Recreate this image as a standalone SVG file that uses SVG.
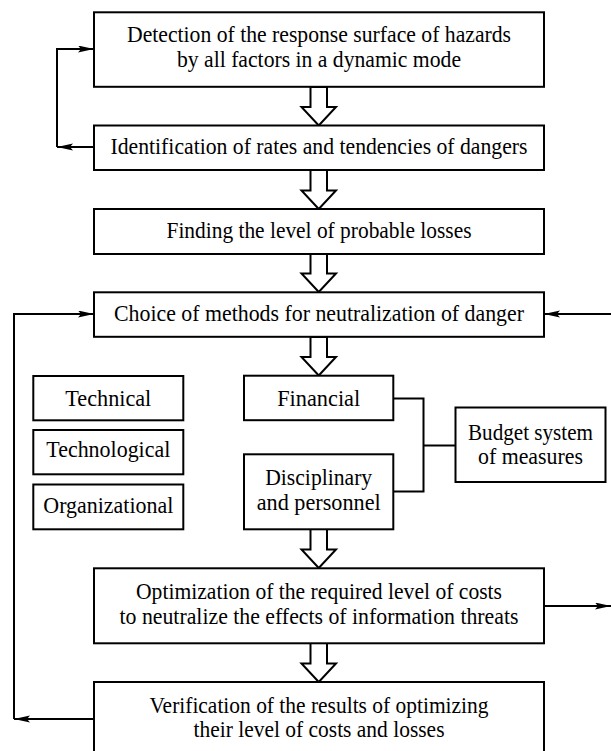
<svg xmlns="http://www.w3.org/2000/svg" width="611" height="751" viewBox="0 0 611 751">
<style>
  .box { fill: #ffffff; stroke: #000000; stroke-width: 2; }
  .t { font-family: 'Liberation Serif', 'DejaVu Serif', 'Times New Roman', Times, serif; font-size: 23.5px; fill: #000000; text-anchor: middle; }
  .line { fill: none; stroke: #000000; stroke-width: 2; }
  .big { fill: #ffffff; stroke: #000000; stroke-width: 2; stroke-linejoin: miter; }
</style>
<defs>
  <marker id="ah" markerWidth="17" markerHeight="8" refX="16" refY="3.5" orient="auto" markerUnits="userSpaceOnUse">
    <path d="M0,0 L16,3.5 L0,7 L3,3.5 z" fill="#000000"/>
  </marker>
</defs>
<rect width="611" height="751" fill="#ffffff"/>

<g id="connectors">
  <polygon class="big" points="310.5,87 327,87 327,107 336,107 318.75,125.5 301.5,107 310.5,107"/>
  <polygon class="big" points="310.5,170 327,170 327,190.5 336,190.5 318.75,209 301.5,190.5 310.5,190.5"/>
  <polygon class="big" points="310.5,254 327,254 327,273.5 336,273.5 318.75,292 301.5,273.5 310.5,273.5"/>
  <polygon class="big" points="310.5,337 327,337 327,357 336,357 318.75,375.5 301.5,357 310.5,357"/>
  <polygon class="big" points="310.5,529 327,529 327,549.5 336,549.5 318.75,568 301.5,549.5 310.5,549.5"/>
  <polygon class="big" points="310.5,643 327,643 327,663.5 336,663.5 318.75,682 301.5,663.5 310.5,663.5"/>

  <path class="line" d="M94,147 H57" marker-end="url(#ah)"/>
  <path class="line" d="M57,147 V49 H94" marker-end="url(#ah)"/>

  <path class="line" d="M94,719 H14" marker-end="url(#ah)"/>
  <path class="line" d="M14,719 V314 H94" marker-end="url(#ah)"/>

  <path class="line" d="M611,314 H544" marker-end="url(#ah)"/>
  <path class="line" d="M544,606 H611" marker-end="url(#ah)"/>

  <path class="line" d="M393,398.5 H423.5 V491.5 H393"/>
  <path class="line" d="M423.5,445.5 H455"/>
</g>

<g id="detection">
  <rect class="box" x="94" y="12.3" width="450" height="74.5"/>
  <text class="t" x="319" y="42" textLength="384" lengthAdjust="spacingAndGlyphs">Detection of the response surface of hazards</text>
  <text class="t" x="319" y="67" textLength="284" lengthAdjust="spacingAndGlyphs">by all factors in a dynamic mode</text>
</g>
<g id="identification">
  <rect class="box" x="94" y="125.5" width="450" height="44.5"/>
  <text class="t" x="319" y="153.5" textLength="417" lengthAdjust="spacingAndGlyphs">Identification of rates and tendencies of dangers</text>
</g>
<g id="finding">
  <rect class="box" x="94" y="209" width="450" height="45"/>
  <text class="t" x="319" y="237.5" textLength="305" lengthAdjust="spacingAndGlyphs">Finding the level of probable losses</text>
</g>
<g id="choice">
  <rect class="box" x="94" y="292.3" width="450" height="44.5"/>
  <text class="t" x="319" y="320.5" textLength="410" lengthAdjust="spacingAndGlyphs">Choice of methods for neutralization of danger</text>
</g>
<g id="technical">
  <rect class="box" x="33.3" y="376" width="150" height="44.3"/>
  <text class="t" x="108.3" y="405.5" textLength="86" lengthAdjust="spacingAndGlyphs">Technical</text>
</g>
<g id="technological">
  <rect class="box" x="33.3" y="430" width="150" height="44.3"/>
  <text class="t" x="108.3" y="457" textLength="124" lengthAdjust="spacingAndGlyphs">Technological</text>
</g>
<g id="organizational">
  <rect class="box" x="33.3" y="484.5" width="150" height="44.8"/>
  <text class="t" x="108.3" y="512.5" textLength="130" lengthAdjust="spacingAndGlyphs">Organizational</text>
</g>
<g id="financial">
  <rect class="box" x="244" y="375.7" width="149.3" height="44.5"/>
  <text class="t" x="318.7" y="405.5" textLength="83" lengthAdjust="spacingAndGlyphs">Financial</text>
</g>
<g id="disciplinary">
  <rect class="box" x="244" y="454.3" width="149.3" height="75"/>
  <text class="t" x="318.7" y="485" textLength="107" lengthAdjust="spacingAndGlyphs">Disciplinary</text>
  <text class="t" x="318.7" y="509.5" textLength="124" lengthAdjust="spacingAndGlyphs">and personnel</text>
</g>
<g id="budget">
  <rect class="box" x="455.5" y="407.5" width="150" height="74.5"/>
  <text class="t" x="530.5" y="440" textLength="125" lengthAdjust="spacingAndGlyphs">Budget system</text>
  <text class="t" x="530.5" y="463.5" textLength="105" lengthAdjust="spacingAndGlyphs">of measures</text>
</g>
<g id="optimization">
  <rect class="box" x="94" y="568.3" width="450" height="75"/>
  <text class="t" x="319" y="598.5" textLength="366" lengthAdjust="spacingAndGlyphs">Optimization of the required level of costs</text>
  <text class="t" x="319" y="623.5" textLength="399" lengthAdjust="spacingAndGlyphs">to neutralize the effects of information threats</text>
</g>
<g id="verification">
  <rect class="box" x="94" y="682" width="450" height="75"/>
  <text class="t" x="319" y="712.5" textLength="339" lengthAdjust="spacingAndGlyphs">Verification of the results of optimizing</text>
  <text class="t" x="319" y="737" textLength="251" lengthAdjust="spacingAndGlyphs">their level of costs and losses</text>
</g>
</svg>
